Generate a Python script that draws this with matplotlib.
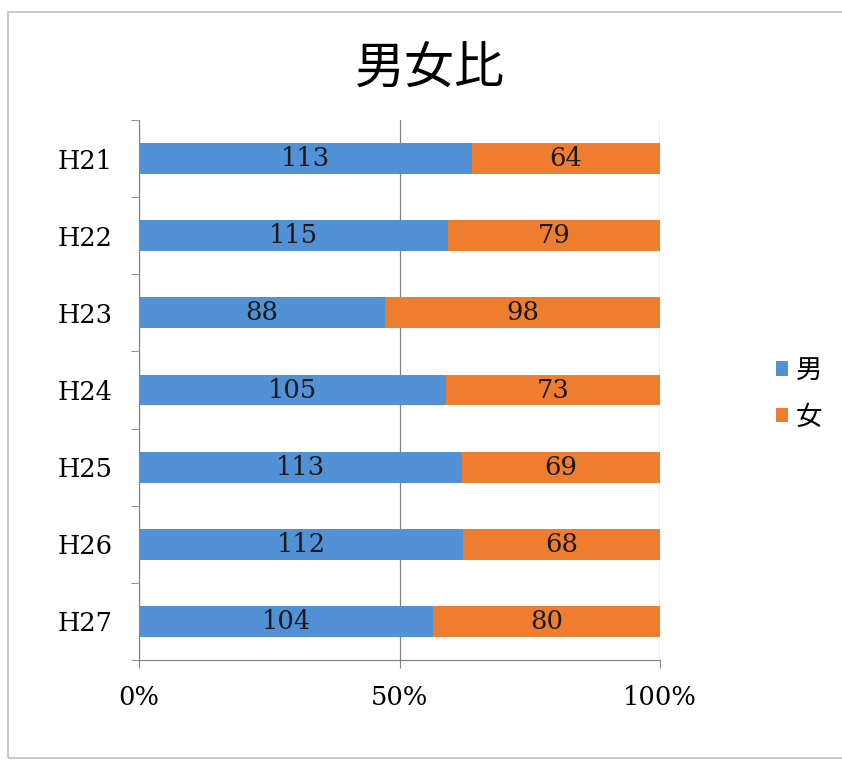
import matplotlib
matplotlib.use("Agg")
import matplotlib.pyplot as plt
from matplotlib.patches import Rectangle
import numpy as np

categories = ["H21", "H22", "H23", "H24", "H25", "H26", "H27"]
male = [113, 115, 88, 105, 113, 112, 104]
female = [64, 79, 98, 73, 69, 68, 80]
series_names = ["男", "女"]
xtick_labels = ["0%", "50%", "100%"]

blue = "#5291D6"
orange = "#EE7D30"
serif = ["DejaVu Serif"]
cjk = ["Noto Sans CJK JP", "DejaVu Sans"]

fig = plt.figure(figsize=(8.42, 7.66), dpi=100)
fig.patches.append(Rectangle((8/842, 1-758/766), 840/842, 746/766, transform=fig.transFigure,
                             fill=False, edgecolor="#BFBFBF", linewidth=1.2))
ax = fig.add_axes([139/842, 1-660/766, 521/842, 540/766])

m = np.array(male, float)
f = np.array(female, float)
tot = m + f
mp = m / tot * 100
fp = f / tot * 100
y = np.arange(len(categories))
h = 0.4
ax.barh(y, mp, height=h, color=blue, label=series_names[0], zorder=3)
ax.barh(y, fp, left=mp, height=h, color=orange, label=series_names[1], zorder=3)
for i in range(len(categories)):
    ax.text(mp[i]/2, y[i], str(male[i]), ha="center", va="center", fontsize=18.5,
            family=serif, color="#1a1a1a", zorder=4)
    ax.text(mp[i] + fp[i]/2, y[i], str(female[i]), ha="center", va="center", fontsize=18.5,
            family=serif, color="#1a1a1a", zorder=4)

ax.set_xlim(0, 100)
ax.set_ylim(len(categories) - 0.5, -0.5)
ax.set_xticks([0, 50, 100])
ax.set_xticklabels(xtick_labels, family=serif, fontsize=18.5)
ax.set_yticks(y)
ax.set_yticklabels(categories, family=serif, fontsize=18.5)
ax.set_yticks(np.arange(-0.5, len(categories), 1), minor=True)
ax.tick_params(axis="y", which="major", length=0, pad=19)
ax.tick_params(axis="y", which="minor", length=6, color="#808080")
ax.tick_params(axis="x", length=6, color="#808080", pad=12)
ax.grid(axis="x", color="#808080", linewidth=0.9, zorder=0)
for s in ["top", "right"]:
    ax.spines[s].set_visible(False)
ax.spines["left"].set_color("#808080")
ax.spines["bottom"].set_color("#808080")

fig.text(430/842, 1-70/766, "男女比", ha="center", va="center", fontsize=36, family=cjk)

leg = ax.legend(loc="center left", bbox_to_anchor=(0.223, 0.493), frameon=False,
                bbox_transform=ax.transAxes if False else None,
                prop={"family": cjk, "size": 19}, handlelength=0.45, handleheight=0.45,
                handletextpad=0.3, labelspacing=0.75, borderpad=0, borderaxespad=0)
leg.set_bbox_to_anchor((1.223, 0.493), transform=ax.transAxes)

fig.savefig("out.png", dpi=100)
